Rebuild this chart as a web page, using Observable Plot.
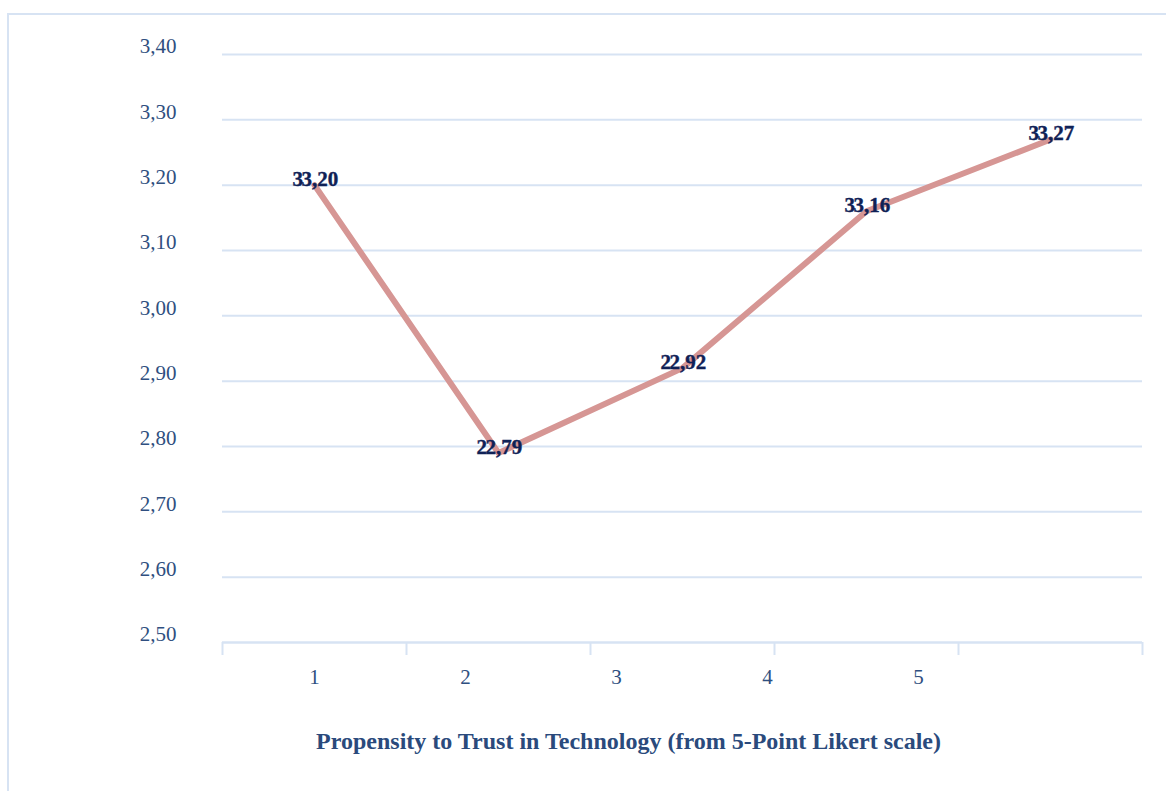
<!DOCTYPE html>
<html>
<head>
<meta charset="utf-8">
<script src="https://cdn.jsdelivr.net/npm/d3@7"></script>
<script src="https://cdn.jsdelivr.net/npm/@observablehq/plot@0.6"></script>
<style>
  html, body { margin: 0; padding: 0; background: #fff; overflow: hidden; }
  #wrap { position: relative; width: 1166px; height: 791px; }
  #border {
    position: absolute; left: 7px; top: 13px; width: 1300px; height: 900px;
    border: 2px solid #d7e3f3; box-sizing: border-box;
  }
  #chart { position: absolute; left: 0; top: 0; }
</style>
</head>
<body>
<div id="wrap">
  <div id="border"></div>
  <div id="chart"></div>
</div>
<script>
// Mean score by propensity-to-trust level
const levels = [1, 2, 3, 4, 5];
const means = [3.20, 2.79, 2.92, 3.16, 3.27];
const categoryLabels = ["1", "2", "3", "4", "5"];
const yTicks = [2.50, 2.60, 2.70, 2.80, 2.90, 3.00, 3.10, 3.20, 3.30, 3.40];
const xTitle = "Propensity to Trust in Technology (from 5-Point Likert scale)";

const data = levels.map((level, i) => ({level, mean: means[i]}));

// Category boundaries (one band per level) and the category-label spacing
const bandEdges = d3.range(0.5, levels.length + 1, 1);
const labelStep = 151 / 184;
const labelPositions = categoryLabels.map((_, i) => 1 + i * labelStep);

const comma = d => d.toFixed(2).replace(".", ",");
const gridColor = "#d7e3f3";
const tickColor = "#2f4f80";
const valueColor = "#0f2156";
const serif = "'Liberation Serif', 'Times New Roman', serif";

const valueText = {
  x: "level", y: "mean", textAnchor: "start", dy: -6,
  fill: valueColor, fontWeight: "bold", fontSize: 21, letterSpacing: "-0.5px",
  stroke: valueColor, strokeWidth: 0.4
};

const chart = Plot.plot({
  width: 1166,
  height: 791,
  marginLeft: 222,
  marginRight: 24,
  marginTop: 54,
  marginBottom: 149,
  style: {fontFamily: serif, fontSize: "21px", color: tickColor, background: "transparent"},
  x: {domain: [0.5, levels.length + 0.5]},
  y: {domain: [2.5, 3.4]},
  marks: [
    Plot.gridY(yTicks, {stroke: gridColor, strokeOpacity: 1, strokeWidth: 2}),
    Plot.axisY(yTicks, {
      tickSize: 0, tickPadding: 46, dy: -8, tickFormat: comma,
      label: null, fill: tickColor, fontSize: 21
    }),
    // band boundary ticks below the baseline
    Plot.axisX(bandEdges, {
      tickSize: 13, stroke: gridColor, strokeWidth: 2, tickFormat: () => "", label: null
    }),
    Plot.axisX(labelPositions, {
      tickSize: 0, tickPadding: 27, tickFormat: (d, i) => categoryLabels[i],
      fill: tickColor, fontSize: 21, label: null
    }),
    Plot.ruleY([2.5], {stroke: gridColor, strokeWidth: 2}),
    Plot.line(data, {x: "level", y: "mean", stroke: "#d69694", strokeWidth: 6, strokeLinejoin: "round"}),
    // value labels, with the leading digit repeated just before each one
    Plot.text(data, {...valueText, text: d => comma(d.mean).charAt(0), dx: -22}),
    Plot.text(data, {...valueText, text: d => comma(d.mean), dx: -13}),
    Plot.text([xTitle], {
      frameAnchor: "bottom", dx: -54, dy: 106, text: d => d,
      fill: "#2a4a7c", fontWeight: "bold", fontSize: 24
    })
  ]
});

document.getElementById("chart").appendChild(chart);
</script>
</body>
</html>
